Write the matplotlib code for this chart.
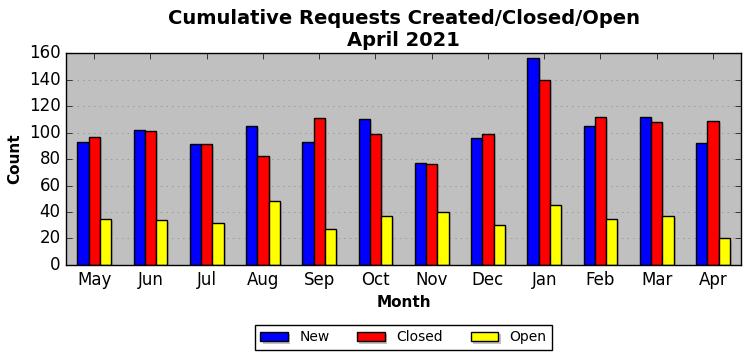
import numpy as np
import matplotlib
matplotlib.use("Agg")
import matplotlib.pyplot as plt
import matplotlib.patheffects as pe

months = ["May", "Jun", "Jul", "Aug", "Sep", "Oct", "Nov", "Dec", "Jan", "Feb", "Mar", "Apr"]
new = [93, 102, 91, 105, 93, 110, 77, 96, 156, 105, 112, 92]
closed = [97, 101, 91, 82, 111, 99, 76, 99, 140, 112, 108, 109]
opened = [35, 34, 32, 48, 27, 37, 40, 30, 45, 35, 37, 20]

plt.style.use("classic")
plt.rcParams["font.family"] = "DejaVu Sans"

fig = plt.figure(figsize=(7.52, 3.61), dpi=100, facecolor="white")
ax = fig.add_axes([0.0878, 0.266, 0.8976, 0.587])
ax.set_facecolor("#c0c0c0")

x = np.arange(len(months))
w = 0.2
shadow = [pe.SimplePatchShadow(offset=(1.5, -1.5), shadow_rgbFace="#999999", alpha=0.6), pe.Normal()]
for off, vals, col, lab in [(-w, new, "blue", "New"), (0, closed, "red", "Closed"), (w, opened, "yellow", "Open")]:
    bars = ax.bar(x + off, vals, w, color=col, edgecolor="black", linewidth=1, label=lab, align="center")
    for b in bars:
        b.set_path_effects(shadow)

ax.set_xlim(-0.5, 11.5)
ax.set_ylim(0, 160)
ax.set_xticks(x)
ax.set_xticklabels(months, fontsize=12)
ax.set_yticks(range(0, 161, 20))
ax.tick_params(axis="y", labelsize=12)
ax.yaxis.grid(True, linestyle=":", color="#888888")
ax.set_axisbelow(True)

ax.set_xlabel("Month", fontsize=11, fontweight="bold")
ax.set_ylabel("Count", fontsize=11, fontweight="bold")
ax.set_title("Cumulative Requests Created/Closed/Open\nApril 2021", fontsize=14, fontweight="bold")

ax.legend(loc="upper center", bbox_to_anchor=(0.5, -0.25), ncol=3, fontsize=10,
          fancybox=False, shadow=False, handlelength=2.0, handletextpad=0.8,
          borderpad=0.4, columnspacing=2.0)

fig.savefig("out.png", dpi=100, facecolor="white")
